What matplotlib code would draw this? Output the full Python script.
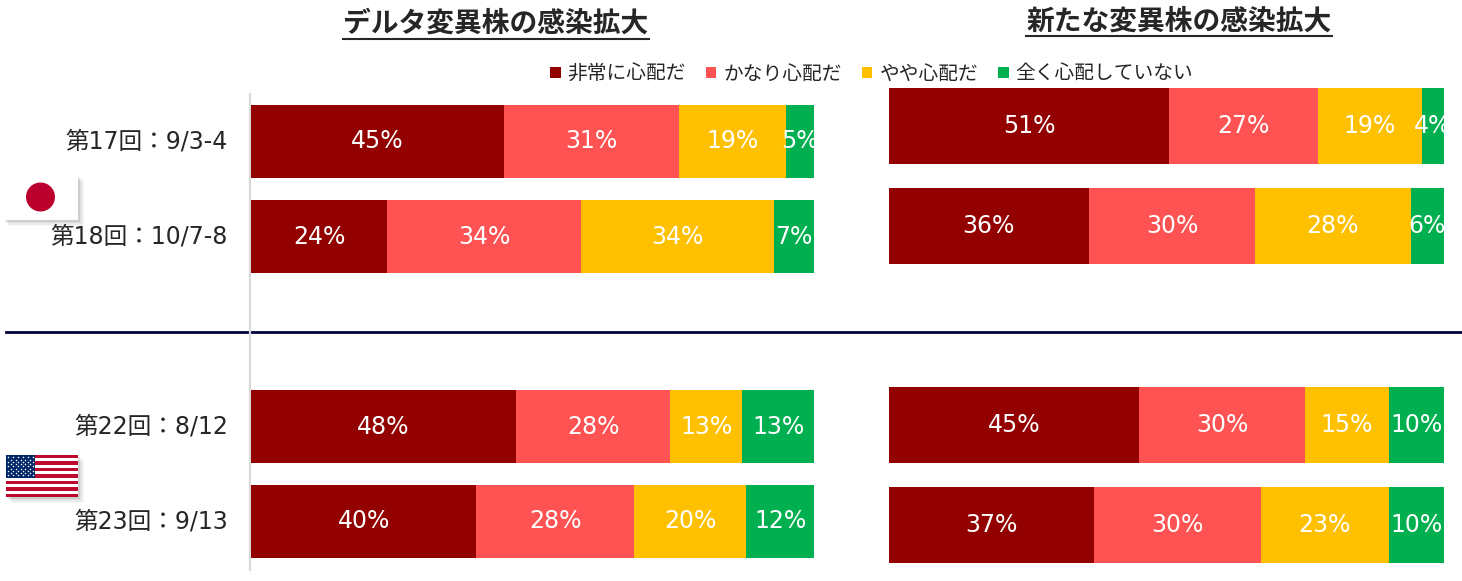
import matplotlib
matplotlib.use("Agg")
import matplotlib.pyplot as plt
from matplotlib.patches import Rectangle, Circle
from matplotlib.lines import Line2D
import numpy as np

plt.rcParams['font.family'] = ['DejaVu Sans', 'Noto Sans CJK JP']

# ---------------- data ----------------
categories = ['第17回：9/3-4', '第18回：10/7-8', '第22回：8/12', '第23回：9/13']
series_names = ['非常に心配だ', 'かなり心配だ', 'やや心配だ', '全く心配していない']
colors = ['#920000', '#FF5252', '#FFC000', '#00B050']

delta_very = [45, 24, 48, 40]
delta_fairly = [31, 34, 28, 28]
delta_some = [19, 34, 13, 20]
delta_none = [5, 7, 13, 12]

new_very = [51, 36, 45, 37]
new_fairly = [27, 30, 30, 30]
new_some = [19, 28, 15, 23]
new_none = [4, 6, 10, 10]

title_left = 'デルタ変異株の感染拡大'
title_right = '新たな変異株の感染拡大'

# ---------------- figure ----------------
W, H = 1462, 581
fig = plt.figure(figsize=(W / 100, H / 100), dpi=100)
TXT = '#262626'


def px_axes(x0, x1, y0, y1):
    return fig.add_axes([x0 / W, 1 - y1 / H, (x1 - x0) / W, (y1 - y0) / H])


ypos = [0, 1, 3, 4]


def draw_panel(ax, data, height):
    arr = np.array(data, dtype=float)
    frac = arr / arr.sum(axis=0)
    left = np.zeros(arr.shape[1])
    conts = []
    for i in range(arr.shape[0]):
        c = ax.barh(ypos, frac[i], left=left, height=height, color=colors[i],
                    label=series_names[i], linewidth=0)
        ax.bar_label(c, labels=[f'{int(v)}%' for v in arr[i]], label_type='center',
                     color='white', fontsize=17)
        left += frac[i]
        conts.append(c)
    ax.set_xlim(0, 1)
    ax.set_ylim(4.5, -0.5)
    ax.axis('off')
    return conts


axL = px_axes(251, 814, 94, 569)
conts = draw_panel(axL, [delta_very, delta_fairly, delta_some, delta_none], 0.768)
for y, lab in zip(ypos, categories):
    axL.text(-0.041, y, lab, ha='right', va='center', fontsize=17, color=TXT)

axR = px_axes(889, 1444, 76.1, 574.9)
draw_panel(axR, [new_very, new_fairly, new_some, new_none], 0.762)

# overlay in pixel coordinates for decorations
ov = fig.add_axes([0, 0, 1, 1], zorder=-1)
ov.set_xlim(0, W)
ov.set_ylim(H, 0)
ov.axis('off')
ov2 = fig.add_axes([0, 0, 1, 1], zorder=5)
ov2.set_xlim(0, W)
ov2.set_ylim(H, 0)
ov2.axis('off')

# separator lines
ov.add_line(Line2D([6, W], [332, 332], color='#00003A', lw=2))
ov.add_line(Line2D([249.5, 249.5], [94, 570], color='#D9D9D9', lw=1.6))

# legend
fig.legend(handles=conts, labels=series_names, loc='center',
           bbox_to_anchor=(871.5 / W, 1 - 74 / H), ncol=4, frameon=False,
           prop={'family': 'Noto Sans CJK JP', 'size': 14.2},
           handlelength=0.55, handleheight=0.55, handletextpad=0.35,
           columnspacing=1.0, borderpad=0, labelcolor=TXT)

# titles
tL = fig.text(496 / W, 1 - 24 / H, title_left, ha='center', va='center',
              fontsize=20, fontweight='bold', family='Noto Sans CJK JP', color=TXT)
tR = fig.text(1179 / W, 1 - 21.5 / H, title_right, ha='center', va='center',
              fontsize=20, fontweight='bold', family='Noto Sans CJK JP', color=TXT)
fig.canvas.draw()
r = fig.canvas.get_renderer()
for t, yy in ((tL, 39), (tR, 36)):
    bb = t.get_window_extent(r)
    ov2.add_line(Line2D([bb.x0, bb.x1], [yy, yy], color=TXT, lw=1.5))


# flags
def shadow(x0, y0, w, h):
    for k, a in enumerate([0.10, 0.08, 0.06, 0.04]):
        d = 2 + k * 1.3
        ov.add_patch(Rectangle((x0 + d, y0 + d), w, h, color='#404040', alpha=a, lw=0))


# Japan
shadow(3, 175, 75, 45)
ov2.add_patch(Rectangle((3, 175), 75, 45, color='white', lw=0))
ov2.add_patch(Circle((40.5, 197), 14.5, color='#BC002D', lw=0))

# USA
fx, fy, fw, fh = 6, 455, 72, 42
shadow(fx, fy, fw, fh)
sh = fh / 13
for i in range(13):
    ov2.add_patch(Rectangle((fx, fy + i * sh), fw, sh,
                            color='#BF0A30' if i % 2 == 0 else 'white', lw=0))
cw, ch = 29, sh * 7
ov2.add_patch(Rectangle((fx, fy), cw, ch, color='#002868', lw=0))
sx, sy = [], []
for row in range(9):
    n = 6 if row % 2 == 0 else 5
    off = 0 if row % 2 == 0 else cw / 12
    for j in range(n):
        sx.append(fx + cw / 12 + off + j * cw / 6)
        sy.append(fy + ch / 10 * (row + 1))
ov2.scatter(sx, sy, s=1.2, color='white', lw=0)

fig.savefig('out.png', dpi=100)
